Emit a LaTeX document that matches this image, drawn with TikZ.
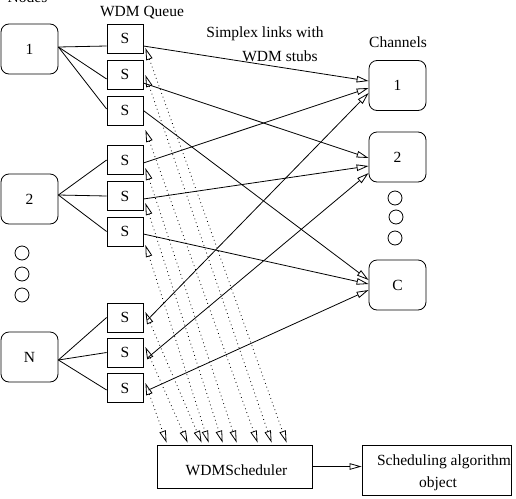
\documentclass[tikz,border=0pt]{standalone}
\usepackage{fontspec}
\setmainfont{Liberation Serif}
\usetikzlibrary{arrows.meta}
\begin{document}
\begin{tikzpicture}[x=1pt,y=-1pt,
  every node/.style={font=\fontsize{15.5}{18}\selectfont},
  ln/.style={line width=0.8pt},
  nodebox/.style={draw, rounded corners=8pt, minimum width=57pt, minimum height=50pt, inner sep=0pt, line width=0.8pt},
  sbox/.style={draw, minimum width=36pt, minimum height=29pt, inner sep=0pt, line width=0.8pt},
  plainbox/.style={draw, inner sep=0pt, line width=0.8pt},
  dotc/.style={draw, circle, minimum size=14pt, inner sep=0pt, line width=0.8pt},
  tip/.style={line width=0.8pt, -{Triangle[open,length=12pt,width=6.5pt]}},
  dots/.style={line width=0.8pt, dash pattern=on 0.8pt off 3.2pt,
     {Triangle[open,length=12pt,width=6.5pt]}-{Triangle[open,length=12pt,width=6.5pt]}},
  txt/.style={inner sep=0pt},
]
\useasboundingbox (0,0) rectangle (516,498);

% labels
\node[txt] (lnodes) at (27.5,-3) {Nodes};
\node[txt] (lqueue) at (142,13) {WDM Queue};
\node[txt] (lsimp1) at (265,34) {Simplex links with};
\node[txt] (lsimp2) at (280,56) {WDM stubs};
\node[txt] (lchan) at (398,42) {Channels};

% source nodes
\node[nodebox] (n1) at (29.5,49) {1};
\node[nodebox] (n2) at (29.5,199) {2};
\node[nodebox] (nN) at (29.5,357) {N};
\node[dotc] (d1) at (22,253) {};
\node[dotc] (d2) at (22,274) {};
\node[dotc] (d3) at (22,295) {};

% queues
\node[sbox] (s1) at (125,38.5) {S};
\node[sbox] (s2) at (125,74.5) {S};
\node[sbox] (s3) at (125,110.5) {S};
\node[sbox] (s4) at (125,160) {S};
\node[sbox] (s5) at (125,196) {S};
\node[sbox] (s6) at (125,231.5) {S};
\node[sbox] (s7) at (125,317.5) {S};
\node[sbox] (s8) at (125,352.5) {S};
\node[sbox] (s9) at (125,388) {S};

% channels
\node[nodebox] (c1) at (397.5,85.5) {1};
\node[nodebox] (c2) at (397.5,157) {2};
\node[nodebox] (cC) at (397.5,285) {C};
\node[dotc] (e1) at (395,198) {};
\node[dotc] (e2) at (396,217) {};
\node[dotc] (e3) at (395,238) {};

% scheduler
\node[plainbox, minimum width=155pt, minimum height=43pt] (sched) at (234.5,466.5) {};
\node[txt] (schedt) at (236.5,470) {WDMScheduler};
\node[plainbox, minimum width=149pt, minimum height=50pt] (alg) at (436.5,470) {};
\node[txt] (algt1) at (444,462) {Scheduling algorithm};
\node[txt] (algt2) at (438,484) {object};

% node -> queue
\draw[ln] ([yshift=2pt]n1.east) -- ([yshift=-7.5pt]s1.west);
\draw[ln] ([yshift=2pt]n1.east) -- ([yshift=-4.5pt]s2.west);
\draw[ln] ([yshift=2pt]n1.east) -- ([yshift=1.5pt]s3.west);
\draw[ln] ([yshift=4pt]n2.east) -- (s4.west);
\draw[ln] ([yshift=4pt]n2.east) -- (s5.west);
\draw[ln] ([yshift=4pt]n2.east) -- (s6.west);
\draw[ln] ([yshift=-3pt]nN.east) -- (s7.west);
\draw[ln] ([yshift=-3pt]nN.east) -- (s8.west);
\draw[ln] ([yshift=-3pt]nN.east) -- ([yshift=-2pt]s9.west);

% queue -> channel
\draw[tip] ([yshift=-7.5pt]s1.east) -- ([yshift=4.5pt]c1.west);
\draw[tip] ([yshift=-3pt]s4.east) -- ([yshift=-2.5pt]c1.west);
\draw[tip] ([xshift=4pt,yshift=-2.5pt]s7.east) -- ([yshift=-7.5pt]c1.west);
\draw[tip] ([yshift=-8.5pt]s2.east) -- ([yshift=-1pt]c2.west);
\draw[tip] ([yshift=-3pt]s5.east) -- ([yshift=-9pt]c2.west);
\draw[tip] ([xshift=4pt,yshift=-5.5pt]s8.east) -- ([yshift=-16pt]c2.west);
\draw[tip] (s3.east) -- ([yshift=5pt]cC.west);
\draw[tip] ([yshift=-2.5pt]s6.east) -- ([yshift=1pt]cC.west);
\draw[tip] ([xshift=5pt,yshift=-2pt]s9.east) -- ([yshift=-5pt]cC.west);

% queue <-> scheduler (dotted)
\draw[dots] ([xshift=2pt,yshift=-9.5pt]s1.east) -- ([xshift=130pt,yshift=2pt]sched.north west);
\draw[dots] ([xshift=2pt,yshift=-0.5pt]s2.east) -- ([xshift=115pt,yshift=2pt]sched.north west);
\draw[dots] ([xshift=2pt,yshift=-19.5pt]s3.east) -- ([xshift=101pt,yshift=2pt]sched.north west);
\draw[dots] ([xshift=2pt,yshift=-8pt]s4.east) -- ([xshift=80pt,yshift=2pt]sched.north west);
\draw[dots] ([xshift=2pt,yshift=-7pt]s5.east) -- ([xshift=66pt,yshift=2pt]sched.north west);
\draw[dots] ([xshift=2pt,yshift=-13.5pt]s6.east) -- ([xshift=52pt,yshift=2pt]sched.north west);
\draw[dots] ([xshift=2pt,yshift=5.5pt]s7.east) -- ([xshift=45pt,yshift=2pt]sched.north west);
\draw[dots] ([xshift=2pt,yshift=5.5pt]s8.east) -- ([xshift=31pt,yshift=2pt]sched.north west);
\draw[dots] ([xshift=2pt,yshift=5pt]s9.east) -- ([xshift=10pt,yshift=2pt]sched.north west);

% scheduler -> algorithm
\draw[tip] (sched.east) -- (sched.east -| alg.west);
\end{tikzpicture}
\end{document}
